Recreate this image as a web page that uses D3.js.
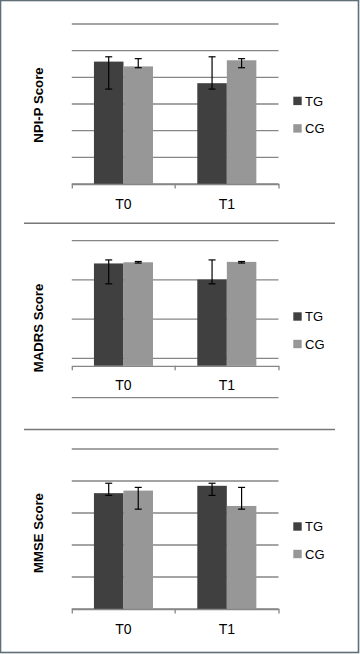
<!DOCTYPE html>
<html>
<head>
<meta charset="utf-8">
<script src="https://cdn.jsdelivr.net/npm/d3@7"></script>
<style>
html,body{margin:0;padding:0;background:#fff;}
svg{display:block;}
</style>
</head>
<body>
<svg id="chart" width="360" height="654"></svg>
<script>
// ---- data ----
const categories = ["T0", "T1"];
const series = ["TG", "CG"];
const panelTitles = ["NPI-P Score", "MADRS Score", "MMSE Score"];

const npiTG = [4.59, 3.78];
const npiCG = [4.41, 4.64];
const npiTGErr = [[3.56, 4.77], [3.56, 4.77]];
const npiCGErr = [[4.36, 4.70], [4.36, 4.70]];

const madrsTG = [3.42, 3.01];
const madrsCG = [3.45, 3.46];
const madrsTGErr = [[2.90, 3.51], [2.90, 3.51]];
const madrsCGErr = [[3.43, 3.47], [3.43, 3.47]];

const mmseTG = [3.62, 3.85];
const mmseCG = [3.70, 3.22];
const mmseTGErr = [[3.55, 3.93], [3.55, 3.93]];
const mmseCGErr = [[3.12, 3.80], [3.12, 3.80]];

const npiDomain = [0, 6];
const madrsDomain = [0, 4];
const mmseDomain = [0, 5];
const npiCross = 0;
const madrsCross = 0.81;
const mmseCross = 0;

// ---- layout ----
const W = 360, H = 654;
const colors = {TG: "#404040", CG: "#979797"};
const plotX = [71.8, 278.5];
const layouts = [
  {y: [184, 24], legendY: 96.7, labelY: 105},
  {y: [397.6, 240.7], legendY: 312.3, labelY: 328},
  {y: [609, 449], legendY: 522.3, labelY: 533}
];
const panelData = [
  {title: panelTitles[0], TG: npiTG, CG: npiCG, TGErr: npiTGErr, CGErr: npiCGErr, domain: npiDomain, cross: npiCross},
  {title: panelTitles[1], TG: madrsTG, CG: madrsCG, TGErr: madrsTGErr, CGErr: madrsCGErr, domain: madrsDomain, cross: madrsCross},
  {title: panelTitles[2], TG: mmseTG, CG: mmseCG, TGErr: mmseTGErr, CGErr: mmseCGErr, domain: mmseDomain, cross: mmseCross}
];

const svg = d3.select("#chart");
svg.append("rect").attr("x", 0.5).attr("y", 0.5).attr("width", W - 2).attr("height", H - 2)
  .attr("fill", "#fff").attr("stroke", "#5f6e77").attr("stroke-width", 1.6);

// separators
[223.3, 429.5].forEach(yy => {
  svg.append("line").attr("x1", 24).attr("x2", 335).attr("y1", yy).attr("y2", yy)
    .attr("stroke", "#777").attr("stroke-width", 1.4);
});

const x0 = d3.scaleBand().domain(categories).range(plotX).paddingInner(0).paddingOuter(0);
const x1 = d3.scaleBand().domain(series).range([0, x0.bandwidth()]).paddingInner(0).paddingOuter(0.75);

panelData.forEach((p, i) => {
  const L = layouts[i];
  const y = d3.scaleLinear().domain(p.domain).range(L.y);
  const g = svg.append("g");

  // gridlines
  const ticks = d3.range(p.domain[0], p.domain[1] + 1e-9, 1);
  g.selectAll(".grid").data(ticks).join("line")
    .attr("x1", plotX[0]).attr("x2", plotX[1])
    .attr("y1", d => y(d)).attr("y2", d => y(d))
    .attr("stroke", "#868686").attr("stroke-width", 1.3);

  // bars
  const rows = [];
  categories.forEach((c, ci) => {
    series.forEach(s => {
      rows.push({c, s, v: p[s][ci], e: p[s + "Err"][ci]});
    });
  });
  const y0 = y(p.cross);
  g.selectAll(".bar").data(rows).join("rect")
    .attr("x", d => x0(d.c) + x1(d.s))
    .attr("width", x1.bandwidth())
    .attr("y", d => y(d.v))
    .attr("height", d => y0 - y(d.v))
    .attr("fill", d => colors[d.s]);

  // error bars
  const cap = 3.5;
  const eg = g.selectAll(".err").data(rows).join("g");
  eg.append("line")
    .attr("x1", d => x0(d.c) + x1(d.s) + x1.bandwidth() / 2)
    .attr("x2", d => x0(d.c) + x1(d.s) + x1.bandwidth() / 2)
    .attr("y1", d => y(d.e[0])).attr("y2", d => y(d.e[1]))
    .attr("stroke", "#000").attr("stroke-width", 1.2);
  [0, 1].forEach(k => {
    eg.append("line")
      .attr("x1", d => x0(d.c) + x1(d.s) + x1.bandwidth() / 2 - cap)
      .attr("x2", d => x0(d.c) + x1(d.s) + x1.bandwidth() / 2 + cap)
      .attr("y1", d => y(d.e[k])).attr("y2", d => y(d.e[k]))
      .attr("stroke", "#000").attr("stroke-width", 1.2);
  });

  // category axis
  const ax = g.append("g").attr("transform", `translate(0,${y0})`)
    .call(d3.axisBottom(x0).tickSizeInner(0).tickSizeOuter(4.5).tickPadding(0));
  ax.select(".domain").attr("stroke", "#868686").attr("stroke-width", 1.3);
  ax.selectAll(".tick text").attr("dy", null).attr("y", 24.5)
    .attr("font-family", "Liberation Sans, Arial, sans-serif").attr("font-size", 14).attr("fill", "#000");
  // boundary tick between categories
  ax.append("line").attr("x1", x0("T1")).attr("x2", x0("T1")).attr("y1", 0).attr("y2", 4.5)
    .attr("stroke", "#868686").attr("stroke-width", 1.3);

  // y label
  g.append("text")
    .attr("transform", `translate(38,${L.labelY}) rotate(-90)`)
    .attr("text-anchor", "middle").attr("dominant-baseline", "central")
    .attr("font-family", "Liberation Sans, Arial, sans-serif").attr("font-weight", "bold")
    .attr("font-size", 13.2).attr("fill", "#000")
    .text(p.title);

  // legend
  series.forEach((s, si) => {
    const ly = L.legendY + si * 27.5;
    g.append("rect").attr("x", 293.3).attr("y", ly).attr("width", 8.4).attr("height", 8.4).attr("fill", colors[s]);
    g.append("text").attr("x", 305).attr("y", ly + 9)
      .attr("font-family", "Liberation Sans, Arial, sans-serif").attr("font-size", 13).attr("fill", "#000")
      .text(s);
  });
});
</script>
</body>
</html>
